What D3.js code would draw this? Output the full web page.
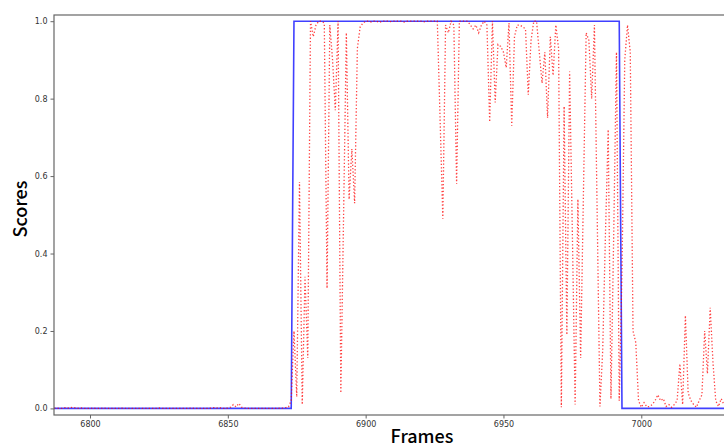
<!DOCTYPE html>
<meta charset="utf-8" />
<script src="https://d3js.org/d3.v7.js"></script>
<style>
  body { margin: 0; background: white; }
  .tick text { font-family: "DejaVu Sans", sans-serif; font-size: 8px; fill: #333; }
  .axis-title { font-family: "Noto Sans CJK JP", "Noto Sans", sans-serif; font-size: 18px; font-weight: 500; fill: #000; }
</style>
<div id="my_dataviz"></div>
<script>
  // ground truth (blue step line)
  const gtFrames = [6780, 6873, 6874, 6992, 6993, 7060];
  const gtValues = [0, 0, 1, 1, 0, 0];

  // predicted scores (red dotted), one value per frame starting at scoreStart
  const scoreStart = 6787;
  const scores = [
    0.001, 0.001, 0.000, 0.000, 0.002, 0.001, 0.003, 0.001, 0.002, 0.000, 0.001, 0.000, 0.000,
    0.000, 0.001, 0.000, 0.000, 0.000, 0.001, 0.000, 0.000, 0.000, 0.000,
    0.000, 0.000, 0.001, 0.000, 0.000, 0.000, 0.000, 0.000, 0.000, 0.000,
    0.000, 0.000, 0.000, 0.000, 0.000, 0.001, 0.000, 0.000, 0.000, 0.000,
    0.000, 0.000, 0.000, 0.000, 0.000, 0.000, 0.000, 0.001, 0.000, 0.000,
    0.000, 0.000, 0.000, 0.000, 0.001, 0.002, 0.001, 0.002, 0.000, 0.000,
    0.001, 0.003, 0.010, 0.004, 0.013, 0.003, 0.001, 0.000, 0.000, 0.000,
    0.000, 0.000, 0.000, 0.000, 0.000, 0.000, 0.000, 0.000, 0.000, 0.001,
    0.001, 0.002, 0.004, 0.02, 0.20, 0.03, 0.585, 0.01, 0.34, 0.13,
    1.0, 0.96, 0.99, 1.0, 1.0, 0.995, 0.31, 0.99, 0.90, 0.77,
    1.0, 0.04, 0.50, 0.97, 0.54, 0.67, 0.53, 0.93, 0.985, 0.995,
    1.0, 1.0, 0.998, 1.0, 1.0, 0.997, 1.0, 1.0, 1.0, 0.999,
    1.0, 1.0, 1.0, 1.0, 0.998, 1.0, 1.0, 1.0, 1.0, 1.0,
    1.0, 0.998, 1.0, 1.0, 1.0, 1.0, 1.0, 0.75, 0.49, 0.99,
    0.97, 1.0, 0.99, 0.58, 1.0, 1.0, 1.0, 1.0, 0.99, 0.98,
    0.99, 0.97, 0.99, 1.0, 0.99, 0.74, 1.0, 0.79, 0.94, 0.935,
    0.92, 0.88, 0.995, 0.73, 0.96, 0.99, 0.99, 0.985, 0.98, 0.81,
    0.95, 1.0, 1.0, 0.92, 0.84, 0.92, 0.75, 0.96, 0.86, 0.99,
    0.93, 0.003, 0.78, 0.19, 0.87, 0.45, 0.01, 0.54, 0.13, 0.55,
    0.97, 0.95, 0.80, 0.99, 0.50, 0.005, 0.15, 0.45, 0.72, 0.025,
    0.45, 0.92, 0.02, 0.35, 0.90, 0.99, 0.92, 0.20, 0.17, 0.02,
    0.003, 0.015, 0.004, 0.005, 0.01, 0.02, 0.035, 0.02, 0.025, 0.005,
    0.01, 0.003, 0.01, 0.02, 0.115, 0.01, 0.24, 0.04, 0.02, 0.01,
    0.003, 0.02, 0.035, 0.20, 0.09, 0.26, 0.12, 0.02, 0.005, 0.025,
    0.01, 0.005
  ];

  const xTicks = [6800, 6850, 6900, 6950, 7000];
  const yTicks = [0, 0.2, 0.4, 0.6, 0.8, 1.0];

  // set the dimensions and margins of the graph
  const margin = { top: 15, left: 54 },
    width = 732,
    height = 400;

  const svg = d3
    .select("#my_dataviz")
    .append("svg")
    .attr("width", 724)
    .attr("height", 445)
    .append("g")
    .attr("transform", `translate(${margin.left}, ${margin.top})`);

  const x = d3.scaleLinear().domain([6786.94, 7052.5]).range([0, width]);
  const y = d3.scaleLinear().domain([-0.017, 1.016]).range([height, 0]);

  svg.append("clipPath").attr("id", "plotclip")
    .append("rect").attr("width", width).attr("height", height);

  // X axis
  const xAxis = svg.append("g")
    .attr("transform", `translate(0, ${height})`)
    .call(d3.axisBottom(x).tickValues(xTicks).tickSize(3.5).tickPadding(3).tickFormat(d3.format("d")));
  // Y axis
  const yAxis = svg.append("g")
    .call(d3.axisLeft(y).tickValues(yTicks).tickSize(3.5).tickPadding(3).tickFormat(d3.format(".1f")));

  [xAxis, yAxis].forEach(function (a) {
    a.select(".domain").remove();
    a.selectAll(".tick line").attr("stroke", "#666").attr("stroke-width", 1);
  });

  const scoreData = scores.map(function (v, i) {
    return { frame: scoreStart + i, value: v };
  });
  const gtData = gtFrames.map(function (f, i) {
    return { frame: f, value: gtValues[i] };
  });

  const line = d3.line()
    .x(function (d) { return x(d.frame); })
    .y(function (d) { return y(d.value); });

  const plot = svg.append("g").attr("clip-path", "url(#plotclip)");

  // Lines
  plot.append("path")
    .datum(gtData)
    .attr("fill", "none")
    .attr("stroke", "#0000ff")
    .attr("stroke-opacity", 0.75)
    .attr("stroke-width", 1.6)
    .attr("d", line);

  plot.append("path")
    .datum(scoreData)
    .attr("fill", "none")
    .attr("stroke", "#ff0000")
    .attr("stroke-opacity", 0.75)
    .attr("stroke-width", 1.3)
    .attr("stroke-dasharray", "1.3,2.1")
    .attr("d", line);

  // frame
  svg.append("rect")
    .attr("width", width)
    .attr("height", height)
    .attr("fill", "none")
    .attr("stroke", "#666")
    .attr("stroke-width", 1.2);

  // axis titles
  d3.select("svg").append("text")
    .attr("class", "axis-title")
    .attr("text-anchor", "middle")
    .attr("x", 422)
    .attr("y", 443)
    .text("Frames");

  d3.select("svg").append("text")
    .attr("class", "axis-title")
    .attr("text-anchor", "middle")
    .attr("transform", "rotate(-90)")
    .attr("x", -209)
    .attr("y", 27)
    .text("Scores");
</script>
